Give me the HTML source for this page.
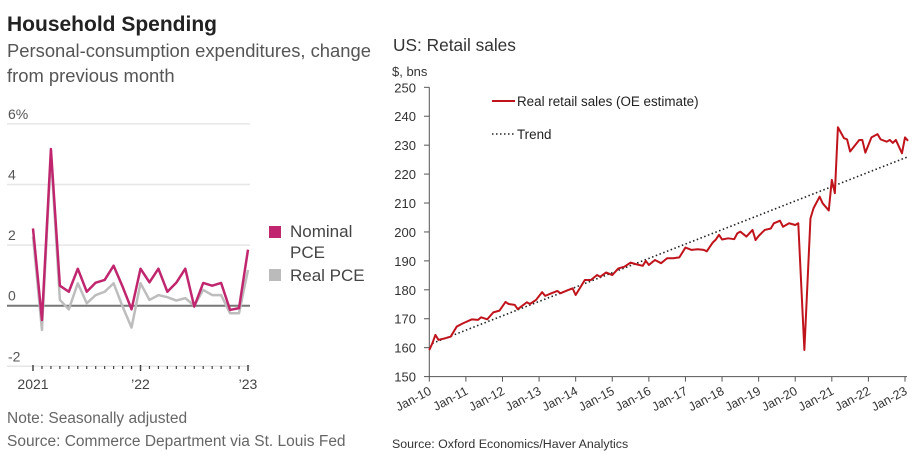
<!DOCTYPE html>
<html><head><meta charset="utf-8">
<style>
body{margin:0;background:#fff;width:924px;height:466px;overflow:hidden;font-family:"Liberation Sans",sans-serif;}
svg{display:block}
</style></head>
<body>
<svg id="c" width="924" height="466" font-family="Liberation Sans, sans-serif">
<text x="7" y="31" font-size="21" font-weight="bold" fill="#222">Household Spending</text>
<text x="7" y="57" font-size="18.4" fill="#555">Personal-consumption expenditures, change</text>
<text x="7" y="82" font-size="18.4" fill="#555">from previous month</text>
<g id="lgrid"></g>
<g id="lplot"></g>
<rect x="269" y="226" width="12" height="12" fill="#c0266e"/>
<text x="290" y="237" font-size="17" fill="#444">Nominal</text>
<text x="290" y="258" font-size="17" fill="#444">PCE</text>
<rect x="269" y="269" width="12" height="12" fill="#bbb"/>
<text x="290" y="281" font-size="17" fill="#444">Real PCE</text>
<text x="7" y="423" font-size="15.5" fill="#666">Note: Seasonally adjusted</text>
<text x="7" y="446" font-size="15.5" fill="#666">Source: Commerce Department via St. Louis Fed</text>

<text x="393" y="51" font-size="17.3" fill="#333">US: Retail sales</text>
<text x="392" y="76" font-size="13" fill="#333">$, bns</text>
<g id="rplot"></g>
<line x1="492" y1="101" x2="515" y2="101" stroke="#c0141c" stroke-width="2"/>
<text x="517" y="106" font-size="13.4" fill="#222">Real retail sales (OE estimate)</text>
<line x1="492" y1="134" x2="515" y2="134" stroke="#222" stroke-width="1.6" stroke-dasharray="1.5,2.5"/>
<text x="517" y="139" font-size="13.4" fill="#222">Trend</text>
<text x="392" y="448" font-size="12.4" fill="#333">Source: Oxford Economics/Haver Analytics</text>
</svg>
<script>
const NS="http://www.w3.org/2000/svg";
// Left chart data (monthly Jan 2021 - Jan 2023)
const pceMonths=[0,1,2,3,4,5,6,7,8,9,10,11,12,13,14,15,16,17,18,19,20,21,22,23,24];
const nominalPCE=[2.55,-0.47,5.17,0.66,0.46,1.22,0.46,0.76,0.85,1.32,0.63,-0.12,1.22,0.77,1.22,0.46,0.76,1.22,-0.03,0.75,0.66,0.75,-0.14,-0.08,1.85];
const realPCE=[2.28,-0.8,5.0,0.19,-0.12,0.74,0.08,0.35,0.46,0.74,-0.03,-0.72,0.74,0.19,0.35,0.28,0.17,0.25,0,0.52,0.35,0.35,-0.25,-0.25,1.18];
const leftYTicks=[6,4,2,0,-2];
const leftYLabels=["6%","4","2","0","-2"];
const leftXLabels=[{m:0,t:"2021"},{m:12,t:"\u201922"},{m:24,t:"\u201923"}];
// Right chart data
const retailMonths=[0,1,2,3,5,7,9,11,14,16,17,19,21,23,25,26,28,29,32,33,35,37,38,40,42,43,45,47,48,51,53,55,56,58,60,62,64,66,68,70,71,72,74,76,78,80,82,84,86,88,90,91,93,94,95,96,98,100,101,102,104,106,107,108,110,112,113,115,116,118,120,121,123,125,126,128,129,131,132,133,134,136,137,138,141,142,143,145,147,148,150,151,152,153,155,156,157];
const retailSales=[159.2,161.5,164.4,162.7,163.2,163.8,167.3,168.4,169.8,169.6,170.5,169.8,172.2,172.8,175.8,175.1,174.8,173.3,175.7,175.1,176.5,179.2,177.9,178.8,179.6,178.8,179.7,180.5,178.2,183.4,183.4,185.1,184.5,186.0,185.1,187.4,188.0,189.4,188.8,188.3,190.0,188.6,190.3,189.2,190.9,190.9,191.2,194.6,193.8,194.0,193.8,193.3,196.4,197.4,199.0,197.4,197.8,197.5,199.5,200.1,198.4,200.7,197.2,198.6,200.7,201.2,203.0,203.9,201.8,203.0,202.4,203.0,159.2,204.7,208.2,212.2,209.9,207.4,218.0,213.4,236.2,232.4,232.0,227.8,231.8,231.8,227.4,232.7,233.8,232.0,231.2,231.8,230.8,231.8,227.2,232.7,231.5];
const trendMonths=[1,157];
const trendValues=[161.5,226];
const rightYTicks=[150,160,170,180,190,200,210,220,230,240,250];
const rightXLabels=["Jan-10","Jan-11","Jan-12","Jan-13","Jan-14","Jan-15","Jan-16","Jan-17","Jan-18","Jan-19","Jan-20","Jan-21","Jan-22","Jan-23"];

function mk(tag,attrs,parent){const e=document.createElementNS(NS,tag);for(const k in attrs)e.setAttribute(k,attrs[k]);parent.appendChild(e);return e;}

// Left axes
const lx=m=>33+m*(215/24);
const ly=v=>305.7-v*30.3;
const lg=document.getElementById('lgrid');
leftYTicks.forEach((v,i)=>{
  const l=mk('line',{x1:7,x2:250,y1:ly(v),y2:ly(v),stroke:v===0?'#777':'#e6e6e6','stroke-width':v===0?2:1.5},lg);
  
  
  const t=mk('text',{x:8,y:ly(v)-5,'font-size':14,fill:'#555'},lg);
  t.textContent=leftYLabels[i];
  
  
});
pceMonths.forEach(m=>{
  const big=(m%12===0);
  const l=mk('line',{x1:lx(m),x2:lx(m),y1:big?365:366,y2:big?371:369,stroke:'#444','stroke-width':big?1.5:1.2},lg);
  
  
});
leftXLabels.forEach(o=>{
  const t=mk('text',{x:lx(o.m),y:389,'font-size':14,fill:'#444','text-anchor':'middle'},lg);
  t.textContent=o.t;
  
  
});
const lp=document.getElementById('lplot');
const real=mk('polyline',{points:pceMonths.map((m,i)=>lx(m)+','+ly(realPCE[i])).join(' '),fill:'none',stroke:'#bdbdbd','stroke-width':2.5,'stroke-linejoin':'round'},lp);


const nom=mk('polyline',{points:pceMonths.map((m,i)=>lx(m)+','+ly(nominalPCE[i])).join(' '),fill:'none',stroke:'#c0266e','stroke-width':2.5,'stroke-linejoin':'round'},lp);



// Right axes
const rx=m=>429.3+m*(475.7/156);
const ry=v=>376.6-(v-150)*2.893;
const rp=document.getElementById('rplot');
const ya=mk('line',{x1:429.3,x2:429.3,y1:ry(250),y2:ry(150),stroke:'#555','stroke-width':1},rp);


const xa=mk('line',{x1:429.3,x2:907,y1:ry(150),y2:ry(150),stroke:'#555','stroke-width':1},rp);


rightYTicks.forEach(v=>{
  const l=mk('line',{x1:424,x2:429.3,y1:ry(v),y2:ry(v),stroke:'#555'},rp);
  
  
  const t=mk('text',{x:416,y:ry(v)+5,'font-size':13,fill:'#333','text-anchor':'end'},rp);
  t.textContent=v;
  
  
});
rightXLabels.forEach((s,i)=>{
  const x=rx(i*12);
  const l=mk('line',{x1:x,x2:x,y1:ry(150),y2:ry(150)+5,stroke:'#555'},rp);
  
  
  const t=mk('text',{x:x+3,y:ry(150)+17,'font-size':12.5,fill:'#333','text-anchor':'end',transform:`rotate(-28 ${x+3} ${ry(150)+17})`},rp);
  t.textContent=s;
  
  
});
const tr=mk('line',{x1:rx(trendMonths[0]),y1:ry(trendValues[0]),x2:rx(trendMonths[1]),y2:ry(trendValues[1]),stroke:'#222','stroke-width':1.6,'stroke-dasharray':'1.5,2.5'},rp);


const rs=mk('polyline',{points:retailMonths.map((m,i)=>rx(m)+','+ry(retailSales[i])).join(' '),fill:'none',stroke:'#c0141c','stroke-width':2,'stroke-linejoin':'round'},rp);


</script>
</body></html>
